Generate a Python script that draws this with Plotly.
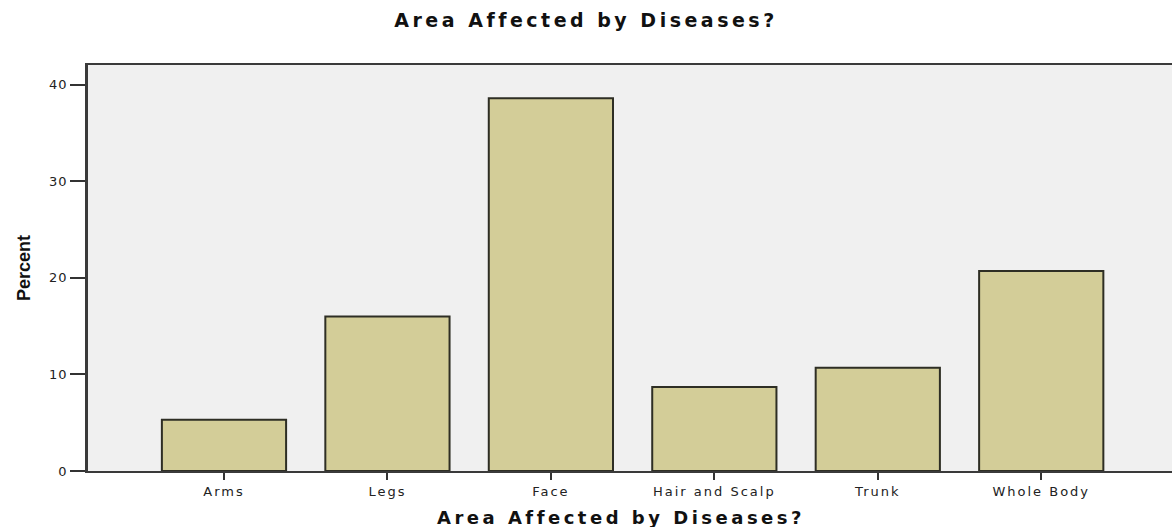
import plotly.graph_objects as go

categories = ["Arms", "Legs", "Face", "Hair and Scalp", "Trunk", "Whole Body"]
percent = [5.3, 16.0, 38.6, 8.7, 10.7, 20.7]
y_ticks = [0, 10, 20, 30, 40]

TXT = "DejaVu Sans, Verdana, Liberation Sans, Arial"

fig = go.Figure(go.Bar(
    x=categories, y=percent, width=0.76,
    marker=dict(color="#d3cd98", line=dict(color="#2e2e24", width=2)),
))

fig.update_layout(
    width=1172, height=527,
    margin=dict(l=88, r=0, t=65, b=56),
    paper_bgcolor="white", plot_bgcolor="#f0f0f0",
    showlegend=False,
    title=dict(text="<b>Area Affected by Diseases?</b>", x=0.5, xanchor="center",
               y=1 - 20 / 527, yanchor="middle",
               font=dict(family=TXT, size=19, color="#111")),
    font=dict(family=TXT, color="#222"),
    annotations=[
        dict(text="<b>Percent</b>", textangle=-90, xref="paper", yref="paper",
             x=(24 - 88) / 1084, y=0.5, xanchor="center", yanchor="middle",
             showarrow=False,
             font=dict(family="Liberation Sans, Arial", size=18, color="#111")),
        dict(text="<b>Area Affected by Diseases?</b>", xref="paper", yref="paper",
             x=(621 - 88) / 1084, y=-(517 - 471) / 406, xanchor="center", yanchor="middle",
             showarrow=False,
             font=dict(family=TXT, size=18, color="#111")),
    ],
)
fig.update_xaxes(
    type="category", range=[-0.832, 5.80],
    showline=True, linecolor="#3a3a3a", linewidth=2, mirror=True,
    ticks="outside", ticklen=7, tickcolor="#333", tickwidth=1.5,
    tickfont=dict(size=13, color="#222"), showgrid=False,
)
fig.update_yaxes(
    range=[0, 42.04], tickvals=y_ticks,
    showline=True, linecolor="#3a3a3a", linewidth=2.5,
    ticks="outside", ticklen=15, tickcolor="#333", tickwidth=1.5,
    tickfont=dict(size=13, color="#222"), showgrid=False, zeroline=False,
)

post = """
(function(){
  function fix(){
    document.body.style.margin = '0';
    document.body.style.overflow = 'hidden';
    var q = function(sel, ls){ document.querySelectorAll(sel).forEach(function(e){ e.style.letterSpacing = ls; }); };
    q('.gtitle', '3.5px');
    q('.annotation-text', '0px');
    q('.xtick text', '2px');
    q('.ytick text', '1px');
    document.querySelectorAll('.annotation-text').forEach(function(e){
      if (e.textContent.indexOf('Area') >= 0) { e.style.letterSpacing = '3.5px'; }
    });
  }
  fix(); setTimeout(fix, 30); setTimeout(fix, 300);
})();
"""

fig.write_html("out.html", post_script=post, config={"displayModeBar": False})
